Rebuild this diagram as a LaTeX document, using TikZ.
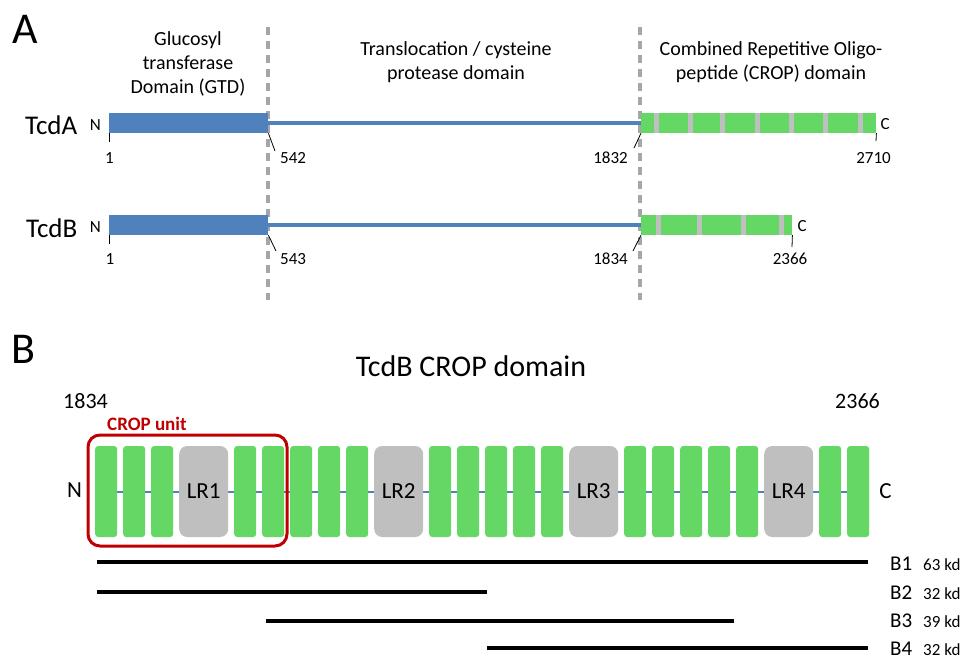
\documentclass[tikz,border=0pt]{standalone}
\usepackage{fontspec}
\setmainfont{Carlito}
\usepackage{xcolor}
\usepackage{tikz}
\definecolor{gtdBlue}{HTML}{4F81BD}
\definecolor{cropGreen}{HTML}{64D764}
\definecolor{repeatGray}{HTML}{BFBFBF}
\definecolor{cutGray}{HTML}{A6A6A6}
\definecolor{unitRed}{HTML}{C00000}
\usetikzlibrary{positioning,backgrounds}
\tikzstyle{gtdBar} = [rectangle, fill=gtdBlue, minimum height=20pt, inner sep=0pt, anchor=west]
\tikzstyle{cropBar} = [rectangle, fill=cropGreen, minimum height=20pt, inner sep=0pt, anchor=west]
\tikzstyle{linker} = [gtdBlue, line width=4pt]
\tikzstyle{cut} = [cutGray, line width=3.5pt, dash pattern=on 8pt off 6pt]
\tikzstyle{tick} = [black, line width=0.8pt]
\tikzstyle{numLabel} = [inner sep=0pt, font=\fontsize{17}{20}\selectfont]
\tikzstyle{domainLabel} = [inner sep=0pt, align=center, font=\fontsize{20}{24}\selectfont]
\tikzstyle{toxinLabel} = [inner sep=0pt, font=\fontsize{27}{32}\selectfont]
\tikzstyle{panelLabel} = [inner sep=0pt, font=\fontsize{44}{50}\selectfont]
\tikzstyle{repUnit} = [rectangle, rounded corners=3pt, fill=cropGreen, minimum width=22pt, minimum height=91pt, inner sep=0pt, anchor=west]
\tikzstyle{lrUnit} = [rectangle, rounded corners=8pt, fill=repeatGray, minimum width=49pt, minimum height=91pt, inner sep=0pt, anchor=west, font=\fontsize{23}{28}\selectfont]
\tikzstyle{unitBox} = [rectangle, rounded corners=12pt, draw=unitRed, line width=3pt, minimum width=199pt, minimum height=111pt]
\tikzstyle{backbone} = [gtdBlue, line width=2pt]
\tikzstyle{fragment} = [black, line width=4pt]
\tikzstyle{fragLabel} = [inner sep=0pt, anchor=base west, font=\fontsize{21}{25}\selectfont]
\tikzstyle{sizeLabel} = [inner sep=0pt, anchor=base west, font=\fontsize{17}{20}\selectfont]

\begin{document}
\begin{tikzpicture}[x=1pt, y=-1pt, node distance=8pt]
    \useasboundingbox (0,0) rectangle (969,659);

    % A: full length toxins
    \node(panelA) [panelLabel] at (25.5,29) {A};
    \coordinate(cutGtdTop) at (268,27);
    \coordinate(cutGtdBot) at (268,300);
    \coordinate(cutCropTop) at (640,27);
    \coordinate(cutCropBot) at (640,300);
    \draw[cut] (cutGtdTop) -- (cutGtdBot);
    \draw[cut] (cutCropTop) -- (cutCropBot);

    \node(gtdText) [domainLabel] at (188,64) {Glucosyl\\transferase\\Domain (GTD)};
    \node(tpdText) [domainLabel] at (456,62) {Translocation / cysteine\\protease domain};
    \node(cropText) [domainLabel] at (771,62) {Combined Repetitive Oligo-\\peptide (CROP) domain};

    \node(gtdA) [gtdBar, minimum width=159pt] at (109,123) {};
    \node(cropA) [cropBar, minimum width=235pt] at (641,123) {};
    \draw[linker] (gtdA.east) -- (cropA.west);
    \foreach \sx in {656.5,690.5,722.5,757.5,791.5,825.5,860.5}
        \fill[repeatGray] (\sx-2.5,113) rectangle (\sx+2.5,133);
    \node(tcdA) [toxinLabel, anchor=base west] at (25,134.5) {TcdA};
    \node(nA) [numLabel, left=8pt of gtdA, yshift=-2pt] {N};
    \node(cA) [numLabel, right=4pt of cropA, yshift=-1pt] {C};

    \node(numA1) [numLabel] at (109.5,158) {1};
    \node(numA542) [numLabel, anchor=west] at (280,158) {542};
    \node(numA1832) [numLabel, anchor=east] at (628,158) {1832};
    \node(numA2710) [numLabel] at (873.5,158) {2710};
    \coordinate(tickA1) at (109,142);
    \coordinate(tickA542) at (275,151);
    \coordinate(tickA1832) at (634,148);
    \coordinate(tickA2710) at (876,141);
    \draw[tick] (gtdA.south west) -- (tickA1);
    \draw[tick] (gtdA.south east) -- (tickA542);
    \draw[tick] (cropA.south west) -- (tickA1832);
    \draw[tick] (cropA.south east) -- (tickA2710);

    \node(gtdB) [gtdBar, minimum width=159pt] at (109,225) {};
    \node(cropB) [cropBar, minimum width=151pt] at (641,225) {};
    \draw[linker] (gtdB.east) -- (cropB.west);
    \foreach \sx in {658.5,699.5,743.5,781.5}
        \fill[repeatGray] (\sx-2.5,215) rectangle (\sx+2.5,235);
    \node(tcdB) [toxinLabel, anchor=base west] at (26,237) {TcdB};
    \node(nB) [numLabel, left=8pt of gtdB, yshift=-2pt] {N};
    \node(cB) [numLabel, right=5pt of cropB, yshift=-1pt] {C};

    \node(numB1) [numLabel] at (110,259) {1};
    \node(numB543) [numLabel, anchor=west] at (280,259) {543};
    \node(numB1834) [numLabel, anchor=east] at (628,259) {1834};
    \node(numB2366) [numLabel] at (790,259) {2366};
    \coordinate(tickB1) at (109,244);
    \coordinate(tickB543) at (276,251);
    \coordinate(tickB1834) at (633,251);
    \coordinate(tickB2366) at (792,247);
    \draw[tick] (gtdB.south west) -- (tickB1);
    \draw[tick] (gtdB.south east) -- (tickB543);
    \draw[tick] (cropB.south west) -- (tickB1834);
    \draw[tick] (cropB.south east) -- (tickB2366);

    % B: TcdB CROP domain
    \node(panelB) [panelLabel] at (23,349) {B};
    \node(cropTitle) [inner sep=0pt, anchor=base, font=\fontsize{30}{36}\selectfont] at (471,376) {TcdB CROP domain};
    \node(startNum) [inner sep=0pt, anchor=base west, font=\fontsize{22}{26}\selectfont] at (63,408) {1834};
    \node(endNum) [inner sep=0pt, anchor=base west, font=\fontsize{22}{26}\selectfont] at (835,408) {2366};

    \foreach \gx [count=\i] in {95,123,151,234,262,290,318,346,429,457,485,513,541,624,652,680,708,736,819,847}
        \node(rep\i) [repUnit] at (\gx,491.5) {};
    \foreach \lx [count=\i] in {179,374,569,764}
        \node(lr\i) [lrUnit] at (\lx,491.5) {LR\i};
    \begin{pgfonlayer}{background}
        \draw[backbone] (rep1.center) -- (rep20.center);
    \end{pgfonlayer}
    \node(nCrop) [inner sep=0pt, font=\fontsize{23}{28}\selectfont] at (74.5,490.5) {N};
    \node(cCrop) [inner sep=0pt, font=\fontsize{23}{28}\selectfont] at (885.5,491) {C};

    \node(cropUnit) [unitBox] at (187.5,490.5) {};
    \node(unitText) [inner sep=0pt, anchor=base west, text=unitRed, font=\fontsize{19}{23}\selectfont\bfseries] at (107,430) {CROP unit};

    \coordinate(b1Start) at (97,562);
    \coordinate(b1End) at (868,562);
    \coordinate(b2Start) at (97,592);
    \coordinate(b2End) at (487,592);
    \coordinate(b3Start) at (266,621);
    \coordinate(b3End) at (734,621);
    \coordinate(b4Start) at (487,648);
    \coordinate(b4End) at (868,648);
    \draw[fragment] (b1Start) -- (b1End);
    \draw[fragment] (b2Start) -- (b2End);
    \draw[fragment] (b3Start) -- (b3End);
    \draw[fragment] (b4Start) -- (b4End);
    \node(b1) [fragLabel] at (890,570) {B1};
    \node(b2) [fragLabel] at (890,599) {B2};
    \node(b3) [fragLabel] at (890,627) {B3};
    \node(b4) [fragLabel] at (890,655) {B4};
    \node(b1kd) [sizeLabel] at (923,570) {63 kd};
    \node(b2kd) [sizeLabel] at (923,599) {32 kd};
    \node(b3kd) [sizeLabel] at (923,627) {39 kd};
    \node(b4kd) [sizeLabel] at (923,655) {32 kd};
\end{tikzpicture}
\end{document}
